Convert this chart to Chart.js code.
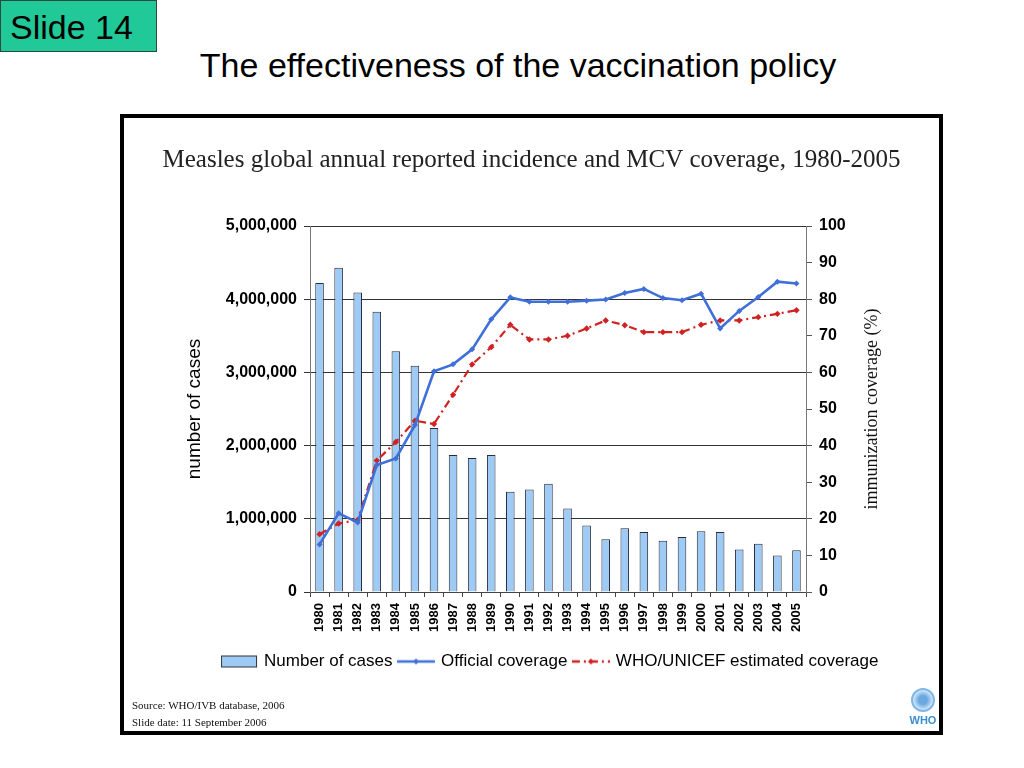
<!DOCTYPE html>
<html>
<head>
<meta charset="utf-8">
<script src="https://cdn.jsdelivr.net/npm/chart.js@4"></script>
<style>
  html, body { margin:0; padding:0; background:#fff; width:1024px; height:768px; overflow:hidden; }
  #slide { position:absolute; left:0; top:0; background:#20C997; border:1px solid #2a4a40;
           font:34px "Liberation Sans", Arial, sans-serif; color:#000; line-height:52px; padding-left:9px; box-sizing:border-box; width:157px; height:52px; }
  #title { position:absolute; left:0; width:1036px; top:46px; text-align:center; font:34px "Liberation Sans", Arial, sans-serif; color:#000; }
  #frame { position:absolute; left:120px; top:114px; width:823px; height:621px; border:4px solid #000; box-sizing:border-box; background:#fff; }
  #wrap { position:absolute; left:0; top:0; width:815px; height:613px; }
  #src { position:absolute; left:8px; top:579px; font:11px "Liberation Serif", "Times New Roman", serif; color:#111; line-height:17px; }
  #who { position:absolute; left:781px; top:570px; width:36px; text-align:center; color:#3a8fd0; font:bold 11px "Liberation Sans", Arial, sans-serif; }
  #who .em { width:24px; height:24px; border-radius:50%; border:2px solid #7fb7e6; margin:0 auto 2px; box-sizing:border-box; background:radial-gradient(circle,#6aa9e0 30%,#d4e8f8 70%); }
</style>
</head>
<body>
<div id="slide">Slide 14</div>
<div id="title">The effectiveness of the vaccination policy</div>
<div id="frame">
  <div id="wrap"><canvas id="c" width="815" height="613"></canvas></div>
  <div id="src">Source: WHO/IVB database, 2006<br>Slide date: 11 September 2006</div>
  <div id="who"><div class="em"></div>WHO</div>
</div>
<script>
const years = ['1980','1981','1982','1983','1984','1985','1986','1987','1988','1989','1990','1991','1992','1993','1994','1995','1996','1997','1998','1999','2000','2001','2002','2003','2004','2005'];
const cases = [4220000,4430000,4090000,3830000,3290000,3090000,2240000,1870000,1830000,1870000,1370000,1400000,1480000,1140000,910000,720000,870000,820000,700000,750000,830000,820000,580000,660000,500000,570000];
const officialCoverage = [13,21.5,19,34.7,36.5,45.6,60.3,62.2,66.3,74.5,80.5,79.3,79.3,79.3,79.6,79.9,81.7,82.8,80.3,79.7,81.5,72,76.8,80.6,84.8,84.3];
const whoUnicefCoverage = [15.8,18.7,19.7,35.9,41,46.8,45.9,53.9,62.2,66.9,73,69,69,70,72,74.2,72.9,71,71,71,73,74.2,74.2,75.1,76,77];
const caseTicks = [0,1000000,2000000,3000000,4000000,5000000];
const coverageTicks = [0,10,20,30,40,50,60,70,80,90,100];

const BLUE = '#3F6FD8', RED = '#D02222', BAR = '#9DCBF5';
const SANS = '"Liberation Sans", Arial, sans-serif';
const SERIF = '"Liberation Serif", "Times New Roman", serif';

function legendIcon(kind) {
  const cv = document.createElement('canvas');
  cv.width = 38; cv.height = 14;
  const g = cv.getContext('2d');
  if (kind === 'bar') {
    g.fillStyle = BAR; g.fillRect(1,1,36,12);
    g.strokeStyle = '#333'; g.lineWidth = 1; g.strokeRect(1.5,1.5,35,11);
  } else {
    const col = kind === 'blue' ? BLUE : RED;
    g.strokeStyle = col; g.lineWidth = 2.5;
    if (kind === 'red') g.setLineDash([8,4,2,4]);
    g.beginPath(); g.moveTo(0,7); g.lineTo(38,7); g.stroke();
    g.setLineDash([]);
    g.fillStyle = col; g.beginPath();
    g.moveTo(19,4); g.lineTo(22,7); g.lineTo(19,10); g.lineTo(16,7); g.closePath(); g.fill();
  }
  return cv;
}
const icons = [legendIcon('bar'), legendIcon('blue'), legendIcon('red')];

const extras = {
  id: 'extras',
  afterLayout(chart) {
    // legend in the original sits a little right of centre
    chart.legend.left += 19; chart.legend.right += 19;
  },
  afterDraw(chart) {
    const ctx = chart.ctx, a = chart.chartArea;
    ctx.save();
    ctx.translate(748, (a.top + a.bottom) / 2);
    ctx.rotate(-Math.PI / 2);
    ctx.font = '18px ' + SERIF;
    ctx.fillStyle = '#111';
    ctx.textAlign = 'center'; ctx.textBaseline = 'middle';
    ctx.fillText('immunization coverage (%)', 0, 0);
    ctx.restore();
  }
};

new Chart(document.getElementById('c'), {
  data: {
    labels: years,
    datasets: [
      { type:'line', label:'Official coverage', data: officialCoverage, yAxisID:'y1', borderColor: BLUE, backgroundColor: BLUE,
        borderWidth: 2.6, pointStyle:'rectRot', pointRadius: 3, pointBorderWidth:0, tension:0, order:1 },
      { type:'line', label:'WHO/UNICEF estimated coverage', data: whoUnicefCoverage, yAxisID:'y1', borderColor: RED, backgroundColor: RED,
        borderWidth: 2.2, borderDash:[8,4,2,4], pointStyle:'rectRot', pointRadius: 3.2, pointBorderWidth:0, tension:0, order:2 },
      { type:'bar', label:'Number of cases', data: cases, yAxisID:'y', backgroundColor: BAR, borderColor:'#2a2a3a', borderWidth:1,
        barPercentage:0.45, categoryPercentage:1.0, order:3 }
    ]
  },
  options: {
    responsive:false, animation:false,
    layout: { padding: { left:0, right:0, top:0, bottom:51 } },
    plugins: {
      title: { display:true, text:'Measles global annual reported incidence and MCV coverage, 1980-2005',
               font:{ family: SERIF, size:25, weight:'normal' }, color:'#222', padding:{ top:27, bottom:51 } },
      tooltip: { enabled:false },
      legend: {
        position:'bottom',
        labels: {
          font:{ family: SANS, size:17 }, color:'#000', usePointStyle:true, pointStyleWidth:33, boxHeight:14, padding:7,
          generateLabels(chart) {
            return [
              { text:'Number of cases', pointStyle: icons[0], datasetIndex:2, fillStyle:BAR, strokeStyle:'#333', lineWidth:0 },
              { text:'Official coverage', pointStyle: icons[1], datasetIndex:0, fillStyle:BLUE, strokeStyle:BLUE, lineWidth:0 },
              { text:'WHO/UNICEF estimated coverage', pointStyle: icons[2], datasetIndex:1, fillStyle:RED, strokeStyle:RED, lineWidth:0 }
            ];
          }
        }
      }
    },
    scales: {
      x: {
        grid: { display:true, drawOnChartArea:false, drawTicks:true, tickLength:5, color:'#444', offset:true },
        border: { display:true, color:'#444' },
        ticks: { autoSkip:false, minRotation:90, maxRotation:90, padding:6, color:'#000', font:{ family: SANS, size:13, weight:'bold' } },
        afterFit(s) { s.height = 54; }
      },
      y: {
        position:'left', min:0, max:5000000,
        afterBuildTicks(s) { s.ticks = caseTicks.map(v => ({ value:v })); },
        grid: { color:'#333', lineWidth:1, tickLength:6, drawTicks:true },
        border: { display:true, color:'#777' },
        ticks: { padding:7, color:'#000', font:{ family: SANS, size:16, weight:'bold' },
                 callback: v => v.toLocaleString('en-US') },
        title: { display:true, text:'number of cases', font:{ family: SANS, size:19 }, color:'#000', padding:{ top:59, bottom:0 } },
        afterFit(s) { s.width = 186; }
      },
      y1: {
        position:'right', min:0, max:100,
        afterBuildTicks(s) { s.ticks = coverageTicks.map(v => ({ value:v })); },
        grid: { drawOnChartArea:false, tickLength:6, color:'#555' },
        border: { display:true, color:'#777' },
        ticks: { padding:7, color:'#000', font:{ family: SANS, size:16, weight:'bold' } },
        afterFit(s) { s.width = 133; }
      }
    }
  },
  plugins: [extras]
});
</script>
</body>
</html>
